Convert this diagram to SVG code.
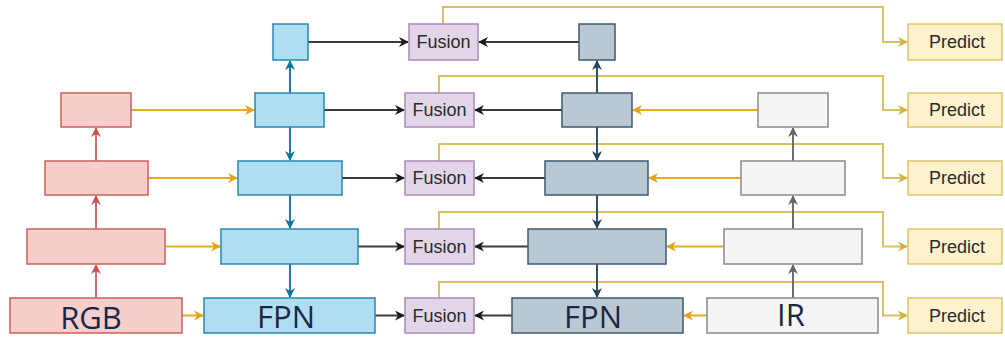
<svg xmlns="http://www.w3.org/2000/svg" width="1005" height="339" viewBox="0 0 1005 339">
  <style>
    .red { fill: #f8cecc; stroke: #c8615c; stroke-width: 1.5; }
    .blue { fill: #b1ddf0; stroke: #2a86b4; stroke-width: 1.5; }
    .fus { fill: #e1d5e7; stroke: #a98bbb; stroke-width: 1.5; }
    .dark { fill: #bac8d3; stroke: #3d5a72; stroke-width: 1.5; }
    .gray { fill: #f5f5f5; stroke: #8a8a8a; stroke-width: 1.5; }
    .pred { fill: #fff2cc; stroke: #dcc46a; stroke-width: 1.5; }
    .big { font-family: "Open Sans", "Noto Sans", sans-serif; font-size: 31px; fill: #1b2746; text-anchor: middle; }
    .lbl { font-family: "Liberation Sans", Arial, sans-serif; font-size: 18px; fill: #2a2a2a; text-anchor: middle; }
    .c-red { stroke: #cf6f6b; stroke-width: 2; fill: none; }
    .c-blue { stroke: #1f7aa6; stroke-width: 2; fill: none; }
    .c-blk { stroke: #3a3a3a; stroke-width: 2; fill: none; }
    .c-dark { stroke: #34536b; stroke-width: 2; fill: none; }
    .c-gray { stroke: #6e6e6e; stroke-width: 2; fill: none; }
    .c-org { stroke: #e5ab22; stroke-width: 2; fill: none; }
    .c-yel { stroke: #dcc060; stroke-width: 2; fill: none; }
  </style>
  <defs>
    <marker id="aRed" viewBox="0 0 10 10" refX="9" refY="5" markerWidth="10" markerHeight="10" markerUnits="userSpaceOnUse" orient="auto"><path d="M0,0 L10,5 L0,10 L3,5 z" fill="#c8524e"/></marker>
    <marker id="aBlue" viewBox="0 0 10 10" refX="9" refY="5" markerWidth="10" markerHeight="10" markerUnits="userSpaceOnUse" orient="auto"><path d="M0,0 L10,5 L0,10 L3,5 z" fill="#10739e"/></marker>
    <marker id="aBlk" viewBox="0 0 10 10" refX="9" refY="5" markerWidth="10" markerHeight="10" markerUnits="userSpaceOnUse" orient="auto"><path d="M0,0 L10,5 L0,10 L3,5 z" fill="#1a1a1a"/></marker>
    <marker id="aDark" viewBox="0 0 10 10" refX="9" refY="5" markerWidth="10" markerHeight="10" markerUnits="userSpaceOnUse" orient="auto"><path d="M0,0 L10,5 L0,10 L3,5 z" fill="#23445d"/></marker>
    <marker id="aGray" viewBox="0 0 10 10" refX="9" refY="5" markerWidth="10" markerHeight="10" markerUnits="userSpaceOnUse" orient="auto"><path d="M0,0 L10,5 L0,10 L3,5 z" fill="#666666"/></marker>
    <marker id="aOrg" viewBox="0 0 10 10" refX="9" refY="5" markerWidth="10" markerHeight="10" markerUnits="userSpaceOnUse" orient="auto"><path d="M0,0 L10,5 L0,10 L3,5 z" fill="#e3a412"/></marker>
    <marker id="aYel" viewBox="0 0 10 10" refX="9" refY="5" markerWidth="10" markerHeight="10" markerUnits="userSpaceOnUse" orient="auto"><path d="M0,0 L10,5 L0,10 L3,5 z" fill="#d6b13e"/></marker>
  </defs>

  <!-- connectors -->
  <g id="connectors">
    <!-- fusion outputs routed to the prediction heads -->
    <path class="c-yel" marker-end="url(#aYel)" d="M443,24 V7 H883 V42 H907"/>
    <path class="c-yel" marker-end="url(#aYel)" d="M439,93 V76 H883 V110 H907"/>
    <path class="c-yel" marker-end="url(#aYel)" d="M439,161 V144 H883 V178 H907"/>
    <path class="c-yel" marker-end="url(#aYel)" d="M439,229 V212 H883 V246.5 H907"/>
    <path class="c-yel" marker-end="url(#aYel)" d="M439,298 V282 H883 V315.5 H907"/>

    <!-- RGB backbone upward -->
    <path class="c-red" marker-end="url(#aRed)" d="M96,298 V265"/>
    <path class="c-red" marker-end="url(#aRed)" d="M96,229 V196"/>
    <path class="c-red" marker-end="url(#aRed)" d="M96,161 V128"/>

    <!-- RGB lateral to FPN -->
    <path class="c-org" marker-end="url(#aOrg)" d="M131,110 H254"/>
    <path class="c-org" marker-end="url(#aOrg)" d="M148,178 H237"/>
    <path class="c-org" marker-end="url(#aOrg)" d="M165,246.5 H220"/>
    <path class="c-org" marker-end="url(#aOrg)" d="M182,315.5 H203"/>

    <!-- RGB FPN -->
    <path class="c-blue" marker-end="url(#aBlue)" d="M290,93 V61"/>
    <path class="c-blue" marker-end="url(#aBlue)" d="M290,127 V160"/>
    <path class="c-blue" marker-end="url(#aBlue)" d="M290,195 V228"/>
    <path class="c-blue" marker-end="url(#aBlue)" d="M290,264 V297"/>

    <!-- FPN to fusion -->
    <path class="c-blk" marker-end="url(#aBlk)" d="M308,42 H408"/>
    <path class="c-blk" marker-end="url(#aBlk)" d="M324,110 H404"/>
    <path class="c-blk" marker-end="url(#aBlk)" d="M342,178 H404"/>
    <path class="c-blk" marker-end="url(#aBlk)" d="M358,246.5 H404"/>
    <path class="c-blk" marker-end="url(#aBlk)" d="M375,315.5 H404"/>
    <path class="c-blk" marker-end="url(#aBlk)" d="M579,42 H479"/>
    <path class="c-blk" marker-end="url(#aBlk)" d="M562,110 H475"/>
    <path class="c-blk" marker-end="url(#aBlk)" d="M545,178 H475"/>
    <path class="c-blk" marker-end="url(#aBlk)" d="M528,246.5 H475"/>
    <path class="c-blk" marker-end="url(#aBlk)" d="M512,315.5 H475"/>

    <!-- IR FPN -->
    <path class="c-dark" marker-end="url(#aDark)" d="M597,93 V61"/>
    <path class="c-dark" marker-end="url(#aDark)" d="M597,127 V160"/>
    <path class="c-dark" marker-end="url(#aDark)" d="M597,195 V228"/>
    <path class="c-dark" marker-end="url(#aDark)" d="M597,264 V297"/>

    <!-- IR lateral to FPN -->
    <path class="c-org" marker-end="url(#aOrg)" d="M758,110 H633"/>
    <path class="c-org" marker-end="url(#aOrg)" d="M741,178 H649"/>
    <path class="c-org" marker-end="url(#aOrg)" d="M724,246.5 H667"/>
    <path class="c-org" marker-end="url(#aOrg)" d="M707,315.5 H684"/>

    <!-- IR backbone upward -->
    <path class="c-gray" marker-end="url(#aGray)" d="M793,298 V265"/>
    <path class="c-gray" marker-end="url(#aGray)" d="M793,229 V196"/>
    <path class="c-gray" marker-end="url(#aGray)" d="M793,161 V128"/>
  </g>

  <!-- RGB backbone -->
  <g id="rgb2"><rect class="red" x="61" y="93" width="70" height="34"/></g>
  <g id="rgb3"><rect class="red" x="45" y="161" width="103" height="34"/></g>
  <g id="rgb4"><rect class="red" x="27" y="229" width="138" height="35"/></g>
  <g id="rgb5"><rect class="red" x="10" y="298" width="172" height="35"/><text class="big" x="91" y="329">RGB</text></g>

  <!-- RGB FPN -->
  <g id="fpnA1"><rect class="blue" x="273" y="24" width="35" height="36"/></g>
  <g id="fpnA2"><rect class="blue" x="255" y="93" width="69" height="34"/></g>
  <g id="fpnA3"><rect class="blue" x="238" y="161" width="104" height="34"/></g>
  <g id="fpnA4"><rect class="blue" x="221" y="229" width="137" height="35"/></g>
  <g id="fpnA5"><rect class="blue" x="204" y="298" width="171" height="35"/><text class="big" x="286" y="328">FPN</text></g>

  <!-- fusion -->
  <g id="fusion1"><rect class="fus" x="409" y="24" width="69" height="36"/><text class="lbl" x="443.5" y="48">Fusion</text></g>
  <g id="fusion2"><rect class="fus" x="405" y="93" width="69" height="34"/><text class="lbl" x="439.5" y="116">Fusion</text></g>
  <g id="fusion3"><rect class="fus" x="405" y="161" width="69" height="34"/><text class="lbl" x="439.5" y="184">Fusion</text></g>
  <g id="fusion4"><rect class="fus" x="405" y="229" width="69" height="35"/><text class="lbl" x="439.5" y="252.5">Fusion</text></g>
  <g id="fusion5"><rect class="fus" x="405" y="298" width="69" height="35"/><text class="lbl" x="439.5" y="321.5">Fusion</text></g>

  <!-- IR FPN -->
  <g id="fpnB1"><rect class="dark" x="579" y="24" width="36" height="36"/></g>
  <g id="fpnB2"><rect class="dark" x="562" y="93" width="70" height="34"/></g>
  <g id="fpnB3"><rect class="dark" x="545" y="161" width="103" height="34"/></g>
  <g id="fpnB4"><rect class="dark" x="528" y="229" width="138" height="35"/></g>
  <g id="fpnB5"><rect class="dark" x="512" y="298" width="171" height="35"/><text class="big" x="593" y="328">FPN</text></g>

  <!-- IR backbone -->
  <g id="ir2"><rect class="gray" x="758" y="93" width="70" height="34"/></g>
  <g id="ir3"><rect class="gray" x="741" y="161" width="104" height="34"/></g>
  <g id="ir4"><rect class="gray" x="724" y="229" width="138" height="35"/></g>
  <g id="ir5"><rect class="gray" x="707" y="298" width="171" height="35"/><text class="big" x="791" y="326">IR</text></g>

  <!-- prediction heads -->
  <g id="pred1"><rect class="pred" x="908" y="24" width="94" height="36"/><text class="lbl" x="957" y="48">Predict</text></g>
  <g id="pred2"><rect class="pred" x="908" y="93" width="94" height="34"/><text class="lbl" x="957" y="116">Predict</text></g>
  <g id="pred3"><rect class="pred" x="908" y="161" width="94" height="34"/><text class="lbl" x="957" y="184">Predict</text></g>
  <g id="pred4"><rect class="pred" x="908" y="229" width="94" height="35"/><text class="lbl" x="957" y="252.5">Predict</text></g>
  <g id="pred5"><rect class="pred" x="908" y="298" width="94" height="35"/><text class="lbl" x="957" y="321.5">Predict</text></g>
</svg>
